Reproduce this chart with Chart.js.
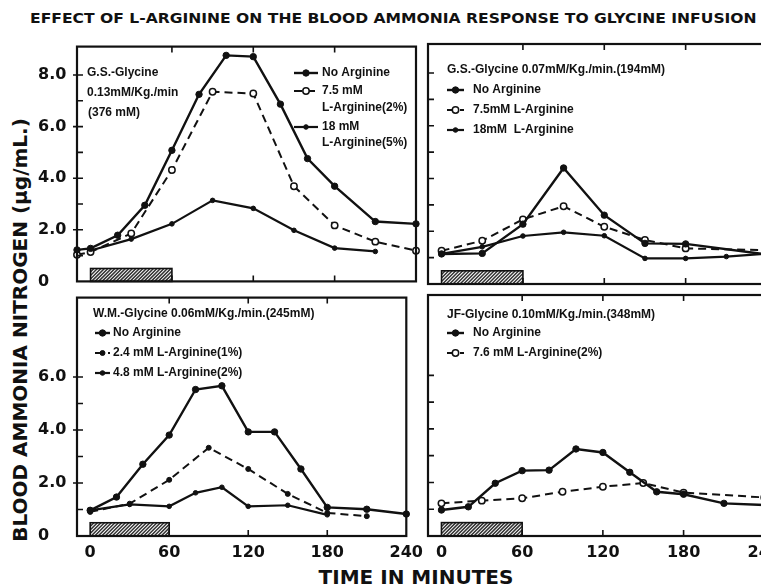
<!DOCTYPE html>
<html>
<head>
<meta charset="utf-8">
<script src="https://cdn.jsdelivr.net/npm/chart.js"></script>
<title>L-Arginine and blood ammonia</title>
<style>
    html, body { margin: 0; padding: 0; background: #fff; overflow: hidden; }
    #page { position: relative; width: 761px; height: 586px; overflow: hidden; }
    canvas { position: absolute; }
    .txt { position: absolute; font-family: "DejaVu Sans", sans-serif; font-weight: bold; color: #111; white-space: nowrap; line-height: 1; }
    #title { left: 30px; top: 11px; font-size: 14px; transform-origin: 0 0; }
    #xtitle { left: 416px; top: 567px; font-size: 20px; transform: translateX(-50%); }
    #ytitle { left: 20px; top: 330px; font-size: 20px; transform: translate(-50%, -50%) rotate(-90deg); }
</style>
</head>
<body>
<div id="page">
    <div class="txt" id="title">EFFECT OF L-ARGININE ON THE BLOOD AMMONIA RESPONSE TO GLYCINE INFUSION</div>
    <div class="txt" id="ytitle">BLOOD AMMONIA NITROGEN (µg/mL.)</div>
    <div class="txt" id="xtitle">TIME IN MINUTES</div>
    <canvas id="tl" width="430" height="260"></canvas>
    <canvas id="tr" width="370" height="260"></canvas>
    <canvas id="bl" width="430" height="295"></canvas>
    <canvas id="br" width="370" height="295"></canvas>
</div>

<script>
// ---- data (minutes, µg/mL) ----
// G.S. glycine 0.13 mM/Kg/min
const gs13NoArgT = [-10, 0, 20, 40, 60, 80, 100, 120, 140, 160, 180, 210, 240];
const gs13NoArgV = [1.22, 1.28, 1.79, 2.95, 5.08, 7.25, 8.76, 8.71, 6.87, 4.76, 3.69, 2.32, 2.23];
const gs13Arg75T = [-10, 0, 30, 60, 90, 120, 150, 180, 210, 240];
const gs13Arg75V = [1.03, 1.14, 1.86, 4.32, 7.35, 7.28, 3.69, 2.17, 1.54, 1.19];
const gs13Arg18T = [0, 30, 60, 90, 120, 150, 180, 210];
const gs13Arg18V = [1.2, 1.64, 2.23, 3.14, 2.83, 1.98, 1.29, 1.16];

// G.S. glycine 0.07 mM/Kg/min
const gs07NoArgT = [0, 30, 60, 90, 120, 150, 180, 240];
const gs07NoArgV = [1.14, 1.16, 2.27, 4.4, 2.61, 1.54, 1.52, 1.12];
const gs07Arg75T = [0, 30, 60, 90, 120, 150, 180, 240];
const gs07Arg75V = [1.26, 1.64, 2.45, 2.95, 2.17, 1.67, 1.35, 1.28];
const gs07Arg18T = [0, 30, 60, 90, 120, 150, 180, 210, 240];
const gs07Arg18V = [1.14, 1.41, 1.82, 1.96, 1.83, 0.97, 0.97, 1.04, 1.15];

// W.M. glycine 0.06 mM/Kg/min
const wmNoArgT = [0, 20, 40, 60, 80, 100, 120, 140, 160, 180, 210, 240];
const wmNoArgV = [0.97, 1.47, 2.71, 3.81, 5.53, 5.67, 3.93, 3.93, 2.53, 1.08, 1.01, 0.83];
const wmArg24T = [0, 30, 60, 90, 120, 150, 180, 210];
const wmArg24V = [0.91, 1.22, 2.12, 3.33, 2.53, 1.59, 0.87, 0.75];
const wmArg48T = [0, 30, 60, 80, 100, 120, 150, 180];
const wmArg48V = [0.97, 1.19, 1.12, 1.63, 1.84, 1.12, 1.16, 0.8];

// J.F. glycine 0.10 mM/Kg/min
const jfNoArgT = [0, 20, 40, 60, 80, 100, 120, 140, 160, 180, 210, 240];
const jfNoArgV = [0.97, 1.09, 1.97, 2.44, 2.46, 3.25, 3.12, 2.38, 1.65, 1.56, 1.22, 1.16];
const jfArg76T = [0, 30, 60, 90, 120, 150, 180, 240];
const jfArg76V = [1.22, 1.32, 1.41, 1.65, 1.84, 1.98, 1.62, 1.44];

// axes
const xLabels = [0, 60, 120, 180, 240];
const xMinorTicks = [60, 120, 180];
const topYLabels = [0, 2, 4, 6, 8];
const topYTicks = [1, 2, 3, 4, 5, 6, 7, 8];
const bottomYLabels = [0, 2, 4, 6];
const bottomYTicks = [1, 2, 3, 4, 5, 6];
const infusion = [0, 60];      // glycine infusion period
const infusionBar = 0.5;       // bar height on the y scale

const ink = '#111';
const tickFont = { family: 'DejaVu Sans', weight: 'bold', size: 16 };

const solidBig = { borderWidth: 2.4, pointRadius: 3.2, pointBorderWidth: 1 };
const dashedOpen = { borderWidth: 2, borderDash: [8, 5], pointRadius: 3.2, pointBorderWidth: 1.5, pointBackgroundColor: '#fff' };
const solidSmall = { borderWidth: 2.2, pointRadius: 2.3, pointBorderWidth: 1 };
const dashedSmall = { borderWidth: 2, borderDash: [8, 5], pointRadius: 2.5, pointBorderWidth: 1 };

function series(t, v, style) {
    return Object.assign({
        data: t.map((x, i) => ({ x: x, y: v[i] })),
        showLine: true,
        clip: false,
        borderColor: ink,
        pointBorderColor: ink,
        pointBackgroundColor: ink,
        pointHoverRadius: 0
    }, style);
}

// frame, inward ticks, infusion bar and the hand placed legends
const framePlugin = {
    id: 'frame',
    beforeDatasetsDraw(chart, args, o) {
        const { ctx, scales: { x, y } } = chart;
        const x0 = x.getPixelForValue(infusion[0]), x1 = x.getPixelForValue(infusion[1]);
        const y0 = y.getPixelForValue(0), y1 = y.getPixelForValue(infusionBar);
        ctx.save();
        ctx.beginPath();
        ctx.rect(x0, y1, x1 - x0, y0 - y1);
        ctx.clip();
        ctx.strokeStyle = '#333';
        ctx.lineWidth = 1.5;
        ctx.beginPath();
        for (let k = x0 - 20; k < x1 + 20; k += 3.5) {
            ctx.moveTo(k, y0);
            ctx.lineTo(k + (y0 - y1), y1);
        }
        ctx.stroke();
        ctx.restore();
        ctx.save();
        ctx.strokeStyle = ink;
        ctx.lineWidth = 1.6;
        ctx.strokeRect(x0, y1, x1 - x0, y0 - y1);
        ctx.restore();
    },
    afterDraw(chart, args, o) {
        const { ctx, chartArea: a, scales: { x, y } } = chart;
        ctx.save();
        ctx.strokeStyle = ink;
        ctx.lineWidth = 2.2;
        ctx.strokeRect(a.left, a.top, a.right - a.left, a.bottom - a.top);
        ctx.lineWidth = 1.6;
        ctx.beginPath();
        o.yTicks.forEach(v => {
            const py = y.getPixelForValue(v);
            const out = (o.showY && o.yLabels.includes(v)) ? 4 : 0;
            ctx.moveTo(a.left - out, py);
            ctx.lineTo(a.left + 6, py);
        });
        xMinorTicks.forEach(v => {
            const px = x.getPixelForValue(v);
            ctx.moveTo(px, a.top);
            ctx.lineTo(px, a.top + 6);
            ctx.moveTo(px, a.bottom);
            ctx.lineTo(px, a.bottom - 6);
        });
        ctx.stroke();

        // legend symbols
        o.symbols.forEach(s => {
            const ds = chart.data.datasets[s[0]];
            const sx0 = s[1] - o.left, sx1 = s[2] - o.left, sy = s[3] - o.top;
            ctx.setLineDash(ds.borderDash || []);
            ctx.lineWidth = ds.borderWidth;
            ctx.beginPath();
            ctx.moveTo(sx0, sy);
            ctx.lineTo(sx1, sy);
            ctx.stroke();
            ctx.setLineDash([]);
            ctx.beginPath();
            ctx.arc((sx0 + sx1) / 2, sy, ds.pointRadius, 0, Math.PI * 2);
            ctx.fillStyle = ds.pointBackgroundColor;
            ctx.fill();
            ctx.lineWidth = ds.pointBorderWidth;
            ctx.stroke();
        });

        // legend texts
        ctx.fillStyle = ink;
        ctx.font = 'bold 12px "Liberation Sans", Arial, sans-serif';
        ctx.textBaseline = 'middle';
        o.texts.forEach(t => ctx.fillText(t[0], t[1] - o.left, t[2] - o.top));
        ctx.restore();
    }
};

function makePanel(p) {
    const el = document.getElementById(p.id);
    el.style.left = p.left + 'px';
    el.style.top = p.top + 'px';
    return new Chart(el, {
        type: 'scatter',
        plugins: [framePlugin],
        data: { datasets: p.datasets },
        options: {
            responsive: false,
            animation: false,
            events: [],
            layout: { padding: p.pad },
            plugins: {
                legend: { display: false },
                tooltip: { enabled: false },
                frame: {
                    left: p.left, top: p.top, showY: p.showY,
                    yLabels: p.yLabels, yTicks: p.yTicks,
                    texts: p.texts, symbols: p.symbols
                }
            },
            scales: {
                x: {
                    type: 'linear', min: -10, max: 240,
                    display: p.showX,
                    grid: { display: false, drawTicks: false },
                    border: { display: false },
                    afterBuildTicks: s => { s.ticks = xLabels.map(v => ({ value: v })); },
                    afterFit: s => { if (p.showX) s.height = 30; },
                    ticks: { autoSkip: false, maxRotation: 0, padding: 7, color: ink, font: tickFont }
                },
                y: {
                    type: 'linear', min: 0, max: p.yMax,
                    display: p.showY,
                    grid: { display: false, drawTicks: false },
                    border: { display: false },
                    afterBuildTicks: s => { s.ticks = p.yLabels.map(v => ({ value: v })); },
                    afterFit: s => { if (p.showY) s.width = 39; },
                    ticks: {
                        autoSkip: false, crossAlign: 'far', color: ink, font: tickFont,
                        callback: v => v === 0 ? '0' : v.toFixed(1)
                    }
                }
            }
        }
    });
}

makePanel({
    id: 'tl', left: 0, top: 34, pad: { left: 38, right: 14, top: 10, bottom: 10 },
    showX: false, showY: true, yMax: 9.1, yLabels: topYLabels, yTicks: topYTicks,
    datasets: [
        series(gs13NoArgT, gs13NoArgV, solidBig),
        series(gs13Arg75T, gs13Arg75V, dashedOpen),
        series(gs13Arg18T, gs13Arg18V, solidSmall)
    ],
    texts: [
        ['G.S.-Glycine', 87, 73], ['0.13mM/Kg./min', 87, 93], ['(376 mM)', 88, 113],
        ['No Arginine', 322, 73], ['7.5 mM', 322, 91], ['L-Arginine(2%)', 322, 108],
        ['18 mM', 322, 127], ['L-Arginine(5%)', 322, 143]
    ],
    symbols: [[0, 294, 318, 73], [1, 294, 318, 91], [2, 294, 318, 127]]
});

makePanel({
    id: 'tr', left: 418, top: 34, pad: { left: 10, right: 21, top: 10, bottom: 10 },
    showX: false, showY: false, yMax: 9.1, yLabels: topYLabels, yTicks: topYTicks,
    datasets: [
        series(gs07NoArgT, gs07NoArgV, solidBig),
        series(gs07Arg75T, gs07Arg75V, dashedOpen),
        series(gs07Arg18T, gs07Arg18V, solidSmall)
    ],
    texts: [
        ['G.S.-Glycine 0.07mM/Kg./min.(194mM)', 447, 70],
        ['No Arginine', 473, 90], ['7.5mM L-Arginine', 473, 110], ['18mM  L-Arginine', 473, 130]
    ],
    symbols: [[0, 447, 464, 90], [1, 447, 464, 110], [2, 447, 464, 130]]
});

makePanel({
    id: 'bl', left: 0, top: 285, pad: { left: 38, right: 14, top: 10, bottom: 14 },
    showX: true, showY: true, yMax: 9.0, yLabels: bottomYLabels, yTicks: bottomYTicks,
    datasets: [
        series(wmNoArgT, wmNoArgV, solidBig),
        series(wmArg24T, wmArg24V, dashedSmall),
        series(wmArg48T, wmArg48V, solidSmall)
    ],
    texts: [
        ['W.M.-Glycine 0.06mM/Kg./min.(245mM)', 93, 314],
        ['No Arginine', 113, 333], ['2.4 mM L-Arginine(1%)', 113, 353], ['4.8 mM L-Arginine(2%)', 113, 373]
    ],
    symbols: [[0, 95, 110, 333], [1, 95, 110, 353], [2, 95, 110, 373]]
});

makePanel({
    id: 'br', left: 418, top: 285, pad: { left: 10, right: 21, top: 10, bottom: 14 },
    showX: true, showY: false, yMax: 9.0, yLabels: bottomYLabels, yTicks: bottomYTicks,
    datasets: [
        series(jfNoArgT, jfNoArgV, solidBig),
        series(jfArg76T, jfArg76V, dashedOpen)
    ],
    texts: [
        ['JF-Glycine 0.10mM/Kg./min.(348mM)', 447, 315],
        ['No Arginine', 473, 333], ['7.6 mM L-Arginine(2%)', 473, 353]
    ],
    symbols: [[0, 447, 464, 333], [1, 447, 464, 353]]
});

// squeeze the title into the width it has in the figure
const title = document.getElementById('title');
title.style.transform = 'scaleX(' + (727 / title.offsetWidth) + ')';
</script>
</body>
</html>
